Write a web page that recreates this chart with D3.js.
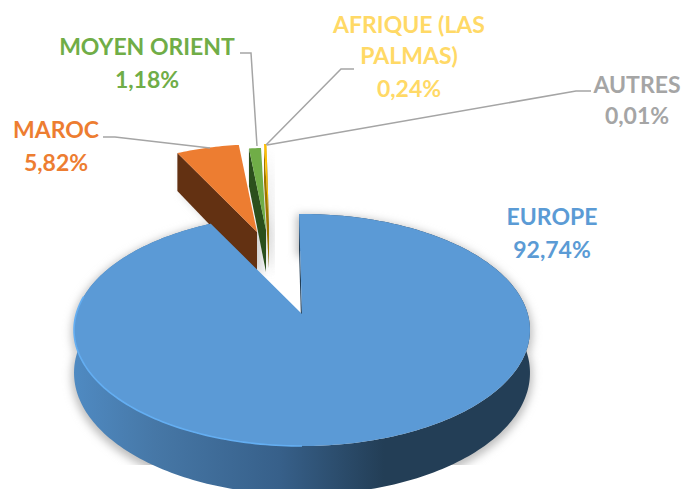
<!DOCTYPE html>
<html>
<head>
<meta charset="utf-8">
<script src="https://cdn.jsdelivr.net/npm/d3@7"></script>
<style>
  html, body { margin: 0; padding: 0; background: #fff; }
  svg { display: block; }
  text { font-family: Lato, "Open Sans", sans-serif; font-weight: 700; text-anchor: middle; }
</style>
</head>
<body>
<div id="chart"></div>
<script>
/* 3D exploded pie, repartition par region */

const categories = ["EUROPE", "MAROC", "MOYEN ORIENT", "AFRIQUE (LAS PALMAS)", "AUTRES"];
const values = [92.74, 5.82, 1.18, 0.24, 0.01];
const valueLabels = ["92,74%", "5,82%", "1,18%", "0,24%", "0,01%"];
const faceColors = ["#5b9ad6", "#ed7d31", "#70ad47", "#ffc000", "#a5a5a5"];
const sideColors = ["#233e56", "#633112", "#2b4f1c", "#9c7500", "#666666"];
const labelColors = ["#5b9bd5", "#ed7d31", "#70ad47", "#ffd966", "#a5a5a5"];

const width = 682,
      height = 489;

/* perspective of the pie plane */
const persp = 0.138, scaleX = 225.8, scaleY = 113.8, depth = 42;

/* where each exploded slice has its tip, and how big it is */
const layout = [
    { cx: 302, cy: 314, r: 1 },
    { cx: 257, cy: 232, r: 0.86 },
    { cx: 266, cy: 230, r: 0.80 },
    { cx: 269, cy: 226, r: 0.80 },
    { cx: 269, cy: 226, r: 0.80 }
];

const svg = d3.select("#chart")
    .append("svg")
    .attr("width", width)
    .attr("height", height)
    .attr("viewBox", [0, 0, width, height]);

const defs = svg.append("defs");

defs.append("filter").attr("id", "soft")
    .attr("x", "-20%").attr("y", "-20%").attr("width", "140%").attr("height", "140%")
    .append("feGaussianBlur").attr("stdDeviation", 4);

defs.append("filter").attr("id", "soft1")
    .append("feGaussianBlur").attr("stdDeviation", 0.5);

/* shadow stops above the bottom of the wall */
defs.append("clipPath").attr("id", "shadowClip")
    .append("rect").attr("width", width).attr("height", 465);

const wallGrad = defs.append("linearGradient").attr("id", "wall")
    .attr("gradientUnits", "userSpaceOnUse")
    .attr("x1", 74).attr("x2", 530).attr("y1", 0).attr("y2", 0);
[[0, "#4f8ac2"], [0.18, "#4677a6"], [0.45, "#37608a"], [0.68, "#233e56"], [1, "#233e56"]]
    .forEach(s => wallGrad.append("stop").attr("offset", s[0]).attr("stop-color", s[1]));

const pie = d3.pie().sort(null).value(d => d).startAngle(-0.015).endAngle(2 * Math.PI - 0.015);
const slices = pie(values);

/* polar point on the slice plane to screen, drop = how far down the wall */
function project(i, a, r, drop) {
    const p = layout[i];
    const u = r * Math.sin(a), v = -r * Math.cos(a);
    const w = 1 - persp * v;
    return [p.cx + scaleX * u / w, p.cy + scaleY * v / w + (drop || 0) / w];
}

function rim(i, a0, a1, drop) {
    const n = Math.max(2, Math.ceil(Math.abs(a1 - a0) / 0.02));
    return d3.range(n + 1).map(k => project(i, a0 + (a1 - a0) * k / n, layout[i].r, drop));
}

const line = d3.line();

function facePath(i) {
    const s = slices[i];
    return line([project(i, 0, 0)].concat(rim(i, s.startAngle, s.endAngle))) + "Z";
}

function edgeWall(i, a) {
    const r = layout[i].r;
    return line([project(i, 0, 0), project(i, a, r), project(i, a, r, depth), project(i, 0, 0, depth)]) + "Z";
}

function rimWall(i) {
    const s = slices[i];
    return line(rim(i, s.startAngle, s.endAngle).concat(rim(i, s.endAngle, s.startAngle, depth))) + "Z";
}

/* soft shadows first */
const shadows = svg.append("g").attr("clip-path", "url(#shadowClip)");
shadows.append("path")
    .attr("d", rimWall(0))
    .attr("transform", "translate(0,3)")
    .attr("fill", "#bdbdbd")
    .attr("stroke", "#bdbdbd")
    .attr("stroke-width", 5)
    .attr("filter", "url(#soft)");
[1, 2, 3].forEach(i => {
    shadows.append("path")
        .attr("d", edgeWall(i, slices[i].startAngle))
        .attr("transform", "translate(5,3)")
        .attr("fill", "#cfcfcf")
        .attr("filter", "url(#soft)");
});

/* small slices, back to front */
[4, 3, 2, 1].forEach(i => {
    const g = svg.append("g");
    g.append("path").attr("d", edgeWall(i, slices[i].startAngle)).attr("fill", sideColors[i]);
    g.append("path").attr("d", facePath(i)).attr("fill", faceColors[i]);
});

/* big slice: walls under the face */
svg.append("path").attr("d", rimWall(0)).attr("fill", "url(#wall)");
svg.append("path").attr("d", edgeWall(0, slices[0].startAngle)).attr("fill", sideColors[0]);
svg.append("path").attr("d", facePath(0)).attr("fill", faceColors[0]);

/* bevel highlight on the front left edge */
svg.append("path")
    .attr("d", line(rim(0, Math.PI, Math.PI * 1.55)))
    .attr("fill", "none")
    .attr("stroke", "#64aef2")
    .attr("stroke-width", 1.6)
    .attr("filter", "url(#soft1)");

/* leader lines */
const leaders = [
    [[103, 137], [115, 137], [210, 148]],
    [[240, 53], [251, 53], [257, 146]],
    [[354, 69], [341, 69], [266, 145]],
    [[591, 91], [576, 91], [267, 145]]
];
svg.append("g")
    .selectAll("path")
    .data(leaders)
    .join("path")
    .attr("d", d => line(d))
    .attr("fill", "none")
    .attr("stroke", "#a5a5a5")
    .attr("stroke-width", 1.5);

/* labels, the long name wraps on two lines */
const labelPos = [
    { x: 552, ys: [225, 258] },
    { x: 56, ys: [138, 171] },
    { x: 147, ys: [55, 88] },
    { x: 409, ys: [33, 64, 97] },
    { x: 637, ys: [93, 124] }
];
const wrapped = { 3: ["AFRIQUE (LAS", "PALMAS)"] };

categories.forEach((c, i) => {
    const lines = (wrapped[i] || [c]).concat(valueLabels[i]);
    svg.append("g")
        .selectAll("text")
        .data(lines)
        .join("text")
        .attr("x", labelPos[i].x)
        .attr("y", (d, k) => labelPos[i].ys[k])
        .attr("font-size", 23)
        .attr("fill", labelColors[i])
        .text(d => d);
});
</script>
</body>
</html>
